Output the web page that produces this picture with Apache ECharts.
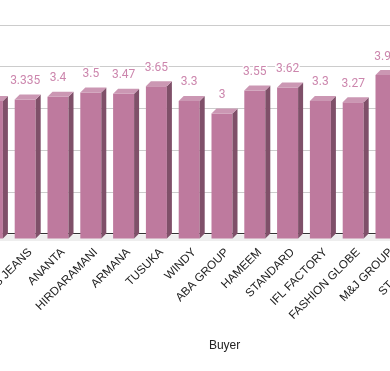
<!DOCTYPE html>
<html><head><meta charset="utf-8">
<style>html,body{margin:0;padding:0;background:#fff}#c{width:390px;height:371px}</style>
<script src="https://cdn.jsdelivr.net/npm/echarts@6/dist/echarts.min.js"></script>
</head><body><div id="c"></div>
<script>
const categories = ["", "S JEANS", "ANANTA", "HIRDARAMANI", "ARMANA", "TUSUKA", "WINDY", "ABA GROUP", "HAMEEM", "STANDARD", "IFL FACTORY", "FASHION GLOBE", "M&J GROUP", "ST GROUP"];
const values = [3.3, 3.335, 3.4, 3.5, 3.47, 3.65, 3.3, 3, 3.55, 3.62, 3.3, 3.27, 3.92, null];
const valueLabels = ["3.3", "3.335", "3.4", "3.5", "3.47", "3.65", "3.3", "3", "3.55", "3.62", "3.3", "3.27", "3.92", ""];
const yTicks = [0, 1, 2, 3, 4, 5];

const DEPTH = 5, FRONT = 21;
const chart = echarts.init(document.getElementById('c'), null, {renderer: 'canvas'});
function renderItem(params, api) {
  const idx = api.value(0), band = api.size([1, 0])[0];
  const base = api.coord([idx, 0]);
  const floor = {type: 'rect', silent: true,
    shape: {x: base[0] - band / 2, y: base[1] + 1, width: band + 0.5, height: 6.5},
    style: {fill: '#eeeeee'}};
  const v = values[idx];
  if (v == null) return {type: 'group', children: [floor]};
  const top = api.coord([idx, v]);
  const xl = top[0] - DEPTH - FRONT / 2, xr = xl + FRONT, yt = top[1] + DEPTH, yb = base[1] + DEPTH;
  return {type: 'group', children: [
    floor,
    {type: 'rect', shape: {x: xl, y: yt, width: FRONT, height: yb - yt}, style: {fill: '#be7a9e'}},
    {type: 'polygon', shape: {points: [[xr, yt], [xr + DEPTH, yt - DEPTH], [xr + DEPTH, yb - DEPTH], [xr, yb]]}, style: {fill: '#7f5069'}},
    {type: 'polygon', shape: {points: [[xl, yt], [xl + DEPTH, yt - DEPTH], [xr + DEPTH, yt - DEPTH], [xr, yt]]}, style: {fill: '#cb97b3'}},
    {type: 'text', z2: 10, style: {x: (xl + xr) / 2, y: yt - 18.5, text: valueLabels[idx], fill: '#cc86ad',
      font: '12px Roboto', align: 'center', verticalAlign: 'middle', stroke: '#fff', lineWidth: 3}}
  ]};
}
chart.setOption({
  animation: false,
  grid: {left: -19, top: 25, width: 32.8 * categories.length, height: 208.5, containLabel: false, outerBoundsMode: 'none'},
  xAxis: {type: 'category', data: categories,
    name: 'Buyer', nameLocation: 'middle', nameGap: 106,
    nameTextStyle: {color: '#222', fontSize: 12, fontFamily: 'Liberation Sans', padding: [0, 0, 0, 28]},
    axisLine: {show: true, lineStyle: {color: '#333', width: 1}},
    axisTick: {show: false},
    axisLabel: {interval: 0, rotate: 45, margin: 17, color: '#222', fontSize: 11.7, fontFamily: 'Liberation Sans'}},
  yAxis: {type: 'value', min: yTicks[0], max: yTicks[yTicks.length - 1], interval: 1,
    axisLabel: {show: false}, axisLine: {show: false}, axisTick: {show: false},
    splitLine: {lineStyle: {color: '#cccccc', width: 1}}},
  series: [{type: 'custom', renderItem, clip: false,
    encode: {x: 0, y: 1},
    data: values.map((v, i) => [i, v == null ? 0 : v])}]
});
</script></body></html>
